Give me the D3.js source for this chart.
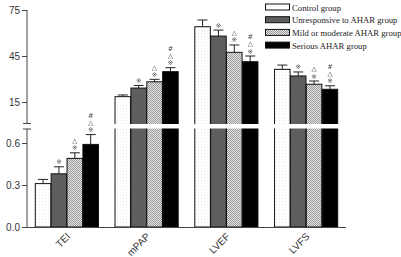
<!DOCTYPE html>
<meta charset="utf-8">
<style>
body { margin: 0; background: #fff; }
.axis text { font-family: Arial, "Liberation Sans", sans-serif; font-size: 10px; fill: #333; }
.axis path, .axis line { stroke: #444; }
.legend text { font-family: "Liberation Serif", "Times New Roman", serif; font-size: 8.7px; fill: #222; }
.sig { font-family: "DejaVu Sans", sans-serif; font-size: 6.6px; fill: #444; text-anchor: middle; }
</style>
<body>
<script src="https://d3js.org/d3.v7.min.js"></script>
<script>

// data
var categories = ["TEI", "mPAP", "LVEF", "LVFS"];
var groups = ["Control group", "Unresponsive to AHAR group", "Mild or moderate AHAR group", "Serious AHAR group"];

var controlMean      = [0.31, 18.5, 64.1, 36.3];
var unresponsiveMean = [0.38, 24.1, 58.0, 32.0];
var mildMean         = [0.49, 28.2, 47.4, 26.6];
var seriousMean      = [0.59, 34.8, 41.3, 23.3];

var controlSd      = [0.03, 1.1, 4.4, 2.8];
var unresponsiveSd = [0.05, 1.7, 3.9, 2.6];
var mildSd         = [0.04, 1.6, 4.8, 2.1];
var seriousSd      = [0.07, 2.6, 3.7, 2.3];

// significance marks, read bottom to top
var controlSig      = ["", "", "", ""];
var unresponsiveSig = ["※", "※", "※", "※"];
var mildSig         = ["※△", "※△", "※△", "※△"];
var seriousSig      = ["※△#", "※△#", "※△#", "※△#"];

var upperTicks = [15, 45, 75];
var lowerTicks = [0.0, 0.3, 0.6];

var means = [controlMean, unresponsiveMean, mildMean, seriousMean];
var sds = [controlSd, unresponsiveSd, mildSd, seriousSd];
var sigs = [controlSig, unresponsiveSig, mildSig, seriousSig];

var width = 401, height = 257;
var axisX = 27;

var svg = d3.select("body").append("svg")
    .attr("width", width)
    .attr("height", height);

var defs = svg.append("defs");
var dots = defs.append("pattern").attr("id", "dots")
    .attr("width", 3).attr("height", 3).attr("patternUnits", "userSpaceOnUse");
dots.append("rect").attr("width", 3).attr("height", 3).attr("fill", "#fff");
dots.append("rect").attr("width", 1).attr("height", 1).attr("fill", "#e8e8e8");
var check = defs.append("pattern").attr("id", "check")
    .attr("width", 2).attr("height", 2).attr("patternUnits", "userSpaceOnUse");
check.append("rect").attr("width", 2).attr("height", 2).attr("fill", "#e4e4e4");
check.append("rect").attr("width", 1).attr("height", 1).attr("fill", "#9a9a9a");
check.append("rect").attr("x", 1).attr("y", 1).attr("width", 1).attr("height", 1).attr("fill", "#9a9a9a");

// grey filter so the small marks get no colour fringes
var gray = defs.append("filter").attr("id", "gray");
gray.append("feColorMatrix").attr("type", "saturate").attr("values", 0);

var fills = ["url(#dots)", "#5e5e5e", "url(#check)", "#000"];

// scales
var x0 = d3.scaleBand().domain(categories).range([axisX, 346]).paddingInner(0.2).paddingOuter(0.1);
var x1 = d3.scaleBand().domain(d3.range(groups.length)).range([0, x0.bandwidth()]).padding(0.02);

var yUp = d3.scaleLinear().domain([1, 75]).range([123.5, 10]);
var yLow = d3.scaleLinear().domain([0, 0.7]).range([227, 129]);

// TEI sits on the lower scale, the rest on the upper one
function onLow(c) { return c === "TEI"; }
function yOf(c, v) { return onLow(c) ? yLow(v) : yUp(v); }

var rows = [];
categories.forEach(function(c, i) {
  groups.forEach(function(g, j) {
    rows.push({ cat: c, g: j, mean: means[j][i], sd: sds[j][i], sig: sigs[j][i] });
  });
});

// whole bars, the break is cut out afterwards
svg.append("g").selectAll("rect").data(rows).enter().append("rect")
    .attr("x", function(d) { return x0(d.cat) + x1(d.g); })
    .attr("width", x1.bandwidth())
    .attr("y", function(d) { return yOf(d.cat, d.mean); })
    .attr("height", function(d) { return yLow(0) - yOf(d.cat, d.mean); })
    .attr("fill", function(d) { return fills[d.g]; })
    .attr("stroke", "#111").attr("stroke-width", 1);

// axis break gap
svg.append("rect")
    .attr("x", axisX + 1).attr("y", yUp(1) + 0.5)
    .attr("width", 346 - axisX).attr("height", yLow(0.7) - yUp(1) - 1)
    .attr("fill", "#fff");

// error bars
var err = svg.append("g").attr("stroke", "#222").attr("stroke-width", 1);
rows.forEach(function(d) {
  var cx = x0(d.cat) + x1(d.g) + x1.bandwidth() / 2;
  var top = yOf(d.cat, d.mean + d.sd);
  err.append("line").attr("x1", cx).attr("x2", cx)
      .attr("y1", yOf(d.cat, d.mean)).attr("y2", top);
  err.append("line").attr("x1", cx - 5).attr("x2", cx + 5)
      .attr("y1", top).attr("y2", top);
});

// significance marks
var sigG = svg.append("g").attr("filter", "url(#gray)");
rows.forEach(function(d) {
  var cx = x0(d.cat) + x1(d.g) + x1.bandwidth() / 2;
  var top = yOf(d.cat, d.mean + d.sd);
  Array.from(d.sig).forEach(function(s, k) {
    sigG.append("text").attr("class", "sig")
        .attr("x", cx)
        .attr("y", top - 2.5 - k * 7.2)
        .text(s);
  });
});

// y axes
var upAxis = svg.append("g").attr("class", "axis")
    .attr("transform", "translate(" + axisX + ",0)")
    .call(d3.axisLeft(yUp).tickValues(upperTicks).tickSize(5).tickSizeOuter(0).tickPadding(2));
upAxis.select(".domain").remove();
upAxis.append("line").attr("x1", 0).attr("x2", 0).attr("y1", yUp(75)).attr("y2", yUp(1));
upAxis.append("line").attr("x1", -4).attr("x2", 4).attr("y1", yUp(1)).attr("y2", yUp(1));

var lowAxis = svg.append("g").attr("class", "axis")
    .attr("transform", "translate(" + axisX + ",0)")
    .call(d3.axisLeft(yLow).tickValues(lowerTicks).tickSize(5).tickSizeOuter(0).tickPadding(2)
      .tickFormat(d3.format(".1f")));
lowAxis.select(".domain").remove();
lowAxis.append("line").attr("x1", 0).attr("x2", 0).attr("y1", yLow(0.7)).attr("y2", yLow(0));
lowAxis.append("line").attr("x1", -4).attr("x2", 4).attr("y1", yLow(0.7)).attr("y2", yLow(0.7));

// x axis
var xAxis = svg.append("g").attr("class", "axis")
    .attr("transform", "translate(0," + yLow(0) + ")")
    .call(d3.axisBottom(x0).tickSize(0).tickSizeOuter(0));
xAxis.select(".domain").attr("d", "M" + axisX + ",0.5H346");
xAxis.selectAll("text")
    .attr("text-anchor", "end")
    .attr("dy", null)
    .attr("transform", "translate(2,8) rotate(-45)");

// legend
var legend = svg.append("g").attr("class", "legend");
groups.forEach(function(g, j) {
  var y = 4 + j * 12.7;
  legend.append("rect").attr("x", 265.5).attr("y", y).attr("width", 24).attr("height", 6)
      .attr("fill", fills[j]).attr("stroke", "#111").attr("stroke-width", 1);
  legend.append("text").attr("x", 292).attr("y", y + 6.5).text(g);
});

</script>
</body>
